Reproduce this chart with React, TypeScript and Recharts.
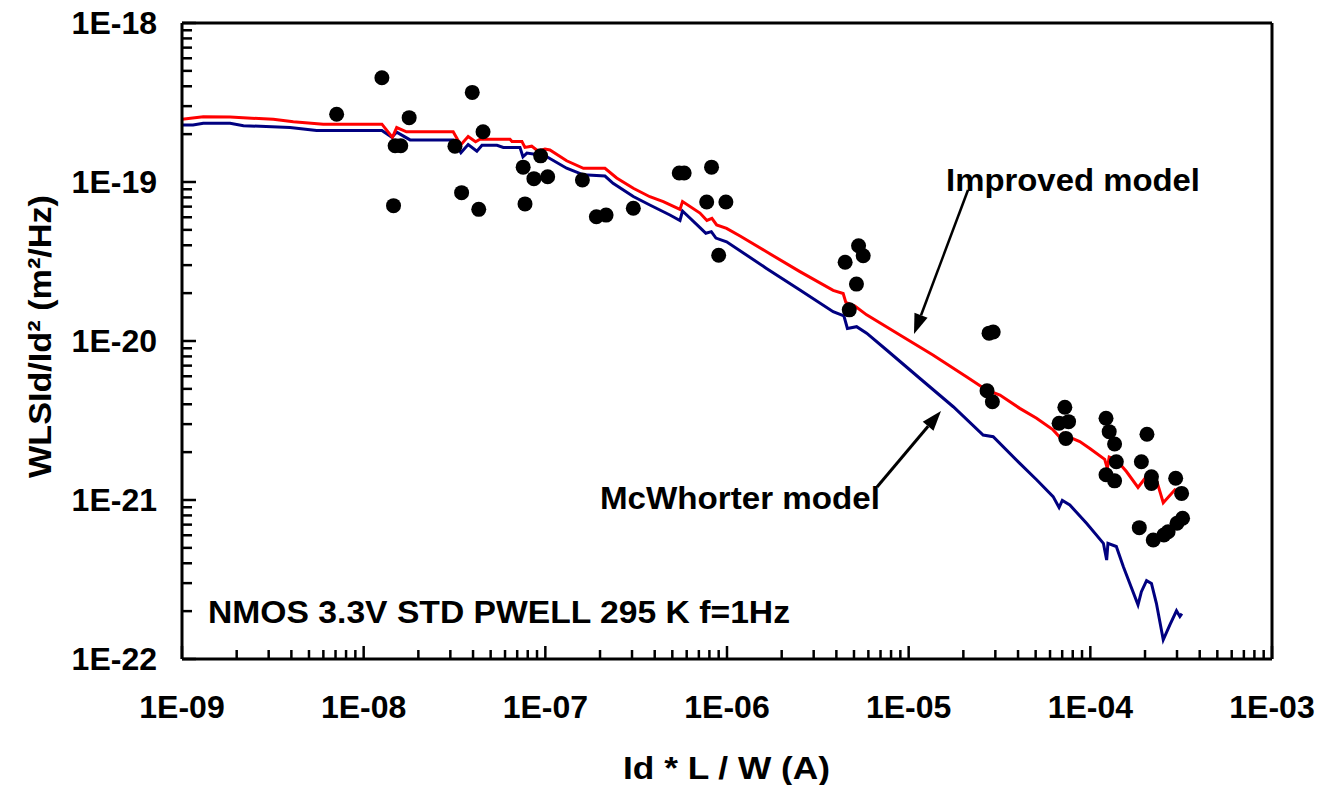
import React from 'react';
import { ComposedChart, Line, Scatter, XAxis, YAxis, ReferenceLine } from 'recharts';

// measured noise points: [Id*L/W (A), WLSId/Id^2 (m^2/Hz)]
const measured: [number, number][] = [
  [7.1e-9, 2.67e-19], [1.26e-8, 4.53e-19], [1.78e-8, 2.54e-19], [1.49e-8, 1.69e-19],
  [1.6e-8, 1.69e-19], [1.46e-8, 7.1e-20], [3.96e-8, 3.66e-19], [4.54e-8, 2.07e-19],
  [3.18e-8, 1.68e-19], [3.46e-8, 8.57e-20], [4.3e-8, 6.73e-20], [9.42e-8, 1.46e-19],
  [7.55e-8, 1.24e-19], [8.65e-8, 1.05e-19], [1.03e-7, 1.08e-19], [7.73e-8, 7.28e-20],
  [1.6e-7, 1.03e-19], [1.91e-7, 6.05e-20], [2.16e-7, 6.19e-20], [3.05e-7, 6.84e-20],
  [5.46e-7, 1.14e-19], [5.81e-7, 1.14e-19], [8.22e-7, 1.24e-19], [7.73e-7, 7.48e-20],
  [9.86e-7, 7.48e-20], [9.0e-7, 3.46e-20], [5.3e-6, 3.97e-20], [5.62e-6, 3.44e-20],
  [4.47e-6, 3.13e-20], [5.16e-6, 2.28e-20], [4.71e-6, 1.57e-20], [2.77e-5, 1.12e-20],
  [2.92e-5, 1.14e-20], [2.7e-5, 4.87e-21], [2.89e-5, 4.15e-21], [7.24e-5, 3.83e-21],
  [6.73e-5, 3.04e-21], [7.59e-5, 3.11e-21], [7.33e-5, 2.44e-21], [1.22e-4, 3.27e-21],
  [1.27e-4, 2.69e-21], [1.36e-4, 2.25e-21], [1.39e-4, 1.74e-21], [1.22e-4, 1.44e-21],
  [1.36e-4, 1.32e-21], [2.05e-4, 2.59e-21], [1.91e-4, 1.74e-21], [2.17e-4, 1.4e-21],
  [2.17e-4, 1.27e-21], [2.95e-4, 1.37e-21], [3.18e-4, 1.1e-21], [1.86e-4, 6.7e-22],
  [2.22e-4, 5.6e-22], [2.54e-4, 6.03e-22], [2.68e-4, 6.32e-22], [3.0e-4, 7.14e-22],
  [3.22e-4, 7.67e-22],
];

const improvedModel: [number, number][] = [
  [1.0e-9, 2.48e-19], [1.31e-9, 2.57e-19], [1.84e-9, 2.56e-19], [3.18e-9, 2.48e-19],
  [4.1e-9, 2.39e-19], [5.99e-9, 2.31e-19], [1.26e-8, 2.31e-19], [1.44e-8, 1.91e-19],
  [1.52e-8, 2.2e-19], [1.72e-8, 2.07e-19], [3.11e-8, 2.07e-19], [3.42e-8, 1.71e-19],
  [3.76e-8, 1.93e-19], [4.13e-8, 1.79e-19], [4.37e-8, 1.86e-19], [6.39e-8, 1.86e-19],
  [6.55e-8, 1.8e-19], [7.43e-8, 1.8e-19], [7.72e-8, 1.65e-19], [8.41e-8, 1.68e-19],
  [9.14e-8, 1.56e-19], [9.95e-8, 1.61e-19], [1.06e-7, 1.59e-19], [1.31e-7, 1.36e-19],
  [1.62e-7, 1.22e-19], [2.13e-7, 1.22e-19], [2.47e-7, 1.06e-19], [3.05e-7, 9.13e-20],
  [3.76e-7, 8.08e-20], [4.46e-7, 7.52e-20], [5.51e-7, 6.73e-20], [5.69e-7, 7.54e-20],
  [7.1e-7, 6.38e-20], [7.75e-7, 5.73e-20], [8.26e-7, 5.91e-20], [8.77e-7, 5.37e-20],
  [9.95e-7, 5.11e-20], [1.18e-6, 4.57e-20], [1.65e-6, 3.64e-20], [2.52e-6, 2.73e-20],
  [3.84e-6, 2.08e-20], [4.36e-6, 1.99e-20], [4.51e-6, 1.75e-20], [5.06e-6, 1.66e-20],
  [5.87e-6, 1.46e-20], [8.95e-6, 1.09e-20], [1.36e-5, 8.16e-21], [2.08e-5, 5.96e-21],
  [2.68e-5, 4.92e-21], [3.18e-5, 4.57e-21], [4.09e-5, 3.77e-21], [5.06e-5, 3.27e-21],
  [6.24e-5, 2.76e-21], [6.79e-5, 2.48e-21], [7.09e-5, 2.63e-21], [7.55e-5, 2.5e-21],
  [8.75e-5, 2.33e-21], [9.94e-5, 2.11e-21], [1.2e-4, 1.8e-21], [1.24e-4, 1.58e-21],
  [1.27e-4, 1.86e-21], [1.39e-4, 1.79e-21], [1.58e-4, 1.51e-21], [1.83e-4, 1.2e-21],
  [2.02e-4, 1.39e-21], [2.22e-4, 1.4e-21], [2.31e-4, 1.34e-21], [2.52e-4, 9.62e-22],
  [2.92e-4, 1.16e-21], [3.18e-4, 1.11e-21],
];

const mcWhorterModel: [number, number][] = [
  [1.0e-9, 2.28e-19], [1.15e-9, 2.28e-19], [1.31e-9, 2.34e-19], [1.84e-9, 2.34e-19],
  [2.18e-9, 2.26e-19], [3.93e-9, 2.2e-19], [5.51e-9, 2.11e-19], [1.26e-8, 2.11e-19],
  [1.43e-8, 1.91e-19], [1.52e-8, 2.06e-19], [1.8e-8, 1.84e-19], [3.11e-8, 1.84e-19],
  [3.43e-8, 1.53e-19], [3.76e-8, 1.72e-19], [4.2e-8, 1.56e-19], [4.48e-8, 1.7e-19],
  [5.42e-8, 1.7e-19], [5.87e-8, 1.65e-19], [7.25e-8, 1.65e-19], [7.53e-8, 1.44e-19],
  [7.92e-8, 1.52e-19], [9.74e-8, 1.47e-19], [1.02e-7, 1.44e-19], [1.31e-7, 1.22e-19],
  [1.62e-7, 1.11e-19], [2.13e-7, 1.09e-19], [2.36e-7, 9.81e-20], [3.05e-7, 8.11e-20],
  [3.76e-7, 7.17e-20], [4.85e-7, 6.2e-20], [5.51e-7, 5.73e-20], [5.69e-7, 6.57e-20],
  [7.1e-7, 5.17e-20], [7.65e-7, 4.76e-20], [8.2e-7, 4.87e-20], [8.69e-7, 4.44e-20],
  [9.95e-7, 4.21e-20], [1.65e-6, 2.86e-20], [2.52e-6, 2.09e-20], [3.84e-6, 1.53e-20],
  [4.4e-6, 1.44e-20], [4.6e-6, 1.2e-20], [5.17e-6, 1.23e-20], [5.87e-6, 1.12e-20],
  [7.56e-6, 8.78e-21], [1.15e-5, 5.83e-21], [1.76e-5, 3.86e-21], [2.57e-5, 2.56e-21],
  [2.92e-5, 2.5e-21], [4.09e-5, 1.7e-21], [5.06e-5, 1.34e-21], [6.24e-5, 1.05e-21],
  [6.73e-5, 8.97e-22], [7.01e-5, 9.93e-22], [7.71e-5, 9.3e-22], [9.53e-5, 7.14e-22],
  [1.18e-4, 5.34e-22], [1.23e-4, 4.19e-22], [1.25e-4, 5.34e-22], [1.39e-4, 5.1e-22],
  [1.52e-4, 3.8e-22], [1.83e-4, 2.19e-22], [1.91e-4, 2.65e-22], [2.04e-4, 3.11e-22],
  [2.17e-4, 2.99e-22], [2.31e-4, 2.24e-22], [2.52e-4, 1.32e-22], [2.74e-4, 1.64e-22],
  [2.98e-4, 2.01e-22], [3.11e-4, 1.85e-22], [3.19e-4, 1.93e-22],
];

const xDecades = [1e-9, 1e-8, 1e-7, 1e-6, 1e-5, 1e-4, 1e-3];
const xDecadeLabels = ['1E-09', '1E-08', '1E-07', '1E-06', '1E-05', '1E-04', '1E-03'];
const yDecades = [1e-22, 1e-21, 1e-20, 1e-19, 1e-18];
const yDecadeLabels = ['1E-22', '1E-21', '1E-20', '1E-19', '1E-18'];
const minorSteps = [2, 3, 4, 5, 6, 7, 8, 9];

const withMinors = (decades: number[]) => {
  const out: number[] = [];
  decades.forEach((d, i) => {
    out.push(d);
    if (i < decades.length - 1) minorSteps.forEach((m) => out.push(m * d));
  });
  return out;
};

const xTicks = withMinors(xDecades);
const yTicks = withMinors(yDecades);

const toPts = (arr: [number, number][]) => arr.map(([x, y]) => ({ x, y }));

const FONT = '"Liberation Sans", Arial, sans-serif';

const labelFor = (v: number, decades: number[], labels: string[]) => {
  const i = decades.findIndex((d) => Math.abs(Math.log10(v) - Math.log10(d)) < 1e-6);
  return i >= 0 ? labels[i] : null;
};

const XTick = (props: any) => {
  const { x, y, payload } = props;
  const label = labelFor(payload.value, xDecades, xDecadeLabels);
  return (
    <g>
      <line x1={x} x2={x} y1={y} y2={y - (label ? 13 : 9)} stroke="#000" strokeWidth={2.5} />
      {label && (
        <text x={x} y={y + 59} textAnchor="middle" fontFamily={FONT} fontWeight="bold" fontSize={32} fill="#000">
          {label}
        </text>
      )}
    </g>
  );
};

const YTick = (props: any) => {
  const { x, y, payload } = props;
  const label = labelFor(payload.value, yDecades, yDecadeLabels);
  return (
    <g>
      <line x1={x} x2={x + (label ? 14 : 10)} y1={y} y2={y} stroke="#000" strokeWidth={2.5} />
      {label && (
        <text x={x - 25} y={y + 11} textAnchor="end" fontFamily={FONT} fontWeight="bold" fontSize={32} fill="#000">
          {label}
        </text>
      )}
    </g>
  );
};

const Dot = (props: any) => <circle cx={props.cx} cy={props.cy} r={7.5} fill="#000" />;

const Arrow = ({ x1, y1, x2, y2, w }: { x1: number; y1: number; x2: number; y2: number; w: number }) => {
  const a = Math.atan2(y2 - y1, x2 - x1);
  const len = 20;
  const half = 7;
  const bx = x2 - len * Math.cos(a);
  const by = y2 - len * Math.sin(a);
  const px = -Math.sin(a) * half;
  const py = Math.cos(a) * half;
  return (
    <g>
      <line x1={x1} y1={y1} x2={bx} y2={by} stroke="#000" strokeWidth={w} />
      <polygon points={`${x2},${y2} ${bx + px},${by + py} ${bx - px},${by - py}`} fill="#000" />
    </g>
  );
};

export default function App() {
  return (
    <div style={{ position: 'absolute', left: 0, top: 0, width: 1336, height: 785, background: '#fff' }}>
      <ComposedChart width={1336} height={785} margin={{ top: 23, right: 64, bottom: 66, left: 62 }}>
        <XAxis
          dataKey="x"
          type="number"
          scale="log"
          domain={[1e-9, 1e-3]}
          allowDataOverflow
          ticks={xTicks}
          interval={0}
          height={60}
          tickSize={0}
          tickMargin={0}
          tickLine={false}
          axisLine={{ stroke: '#000', strokeWidth: 3 }}
          tick={<XTick />}
        />
        <YAxis
          dataKey="y"
          type="number"
          scale="log"
          domain={[1e-22, 1e-18]}
          allowDataOverflow
          ticks={yTicks}
          interval={0}
          width={120}
          tickSize={0}
          tickMargin={0}
          tickLine={false}
          axisLine={{ stroke: '#000', strokeWidth: 3 }}
          tick={<YTick />}
        />
        <ReferenceLine y={1e-18} stroke="#000" strokeWidth={3} />
        <ReferenceLine x={1e-3} stroke="#000" strokeWidth={3} />
        <Line
          data={toPts(mcWhorterModel)}
          dataKey="y"
          type="linear"
          stroke="#000080"
          strokeWidth={3}
          dot={false}
          isAnimationActive={false}
        />
        <Line
          data={toPts(improvedModel)}
          dataKey="y"
          type="linear"
          stroke="#ff0000"
          strokeWidth={3}
          dot={false}
          isAnimationActive={false}
        />
        <Scatter data={toPts(measured)} dataKey="y" shape={<Dot />} isAnimationActive={false} />
      </ComposedChart>
      <svg
        width={1336}
        height={785}
        style={{ position: 'absolute', left: 0, top: 0, pointerEvents: 'none' }}
        fontFamily={FONT}
        fontWeight="bold"
      >
        <text x={946} y={191} fontSize={32} fill="#000" textLength={254} lengthAdjust="spacingAndGlyphs">
          Improved model
        </text>
        <text x={600} y={509} fontSize={32} fill="#000" textLength={280} lengthAdjust="spacingAndGlyphs">
          McWhorter model
        </text>
        <text x={208} y={623} fontSize={32} fill="#000" textLength={582} lengthAdjust="spacingAndGlyphs">
          NMOS 3.3V STD PWELL 295 K f=1Hz
        </text>
        <Arrow x1={968} y1={190} x2={914} y2={334} w={2.5} />
        <Arrow x1={877} y1={487} x2={941} y2={411} w={3} />
        <text x={623} y={779} fontSize={32} fill="#000" textLength={207} lengthAdjust="spacingAndGlyphs">
          Id * L / W (A)
        </text>
        <text
          x={195}
          y={51}
          fontSize={32}
          fill="#000"
          textLength={283}
          lengthAdjust="spacingAndGlyphs"
          transform="rotate(-90 0 0) translate(-673 0)"
        >
          WLSId/Id² (m²/Hz)
        </text>
      </svg>
    </div>
  );
}
